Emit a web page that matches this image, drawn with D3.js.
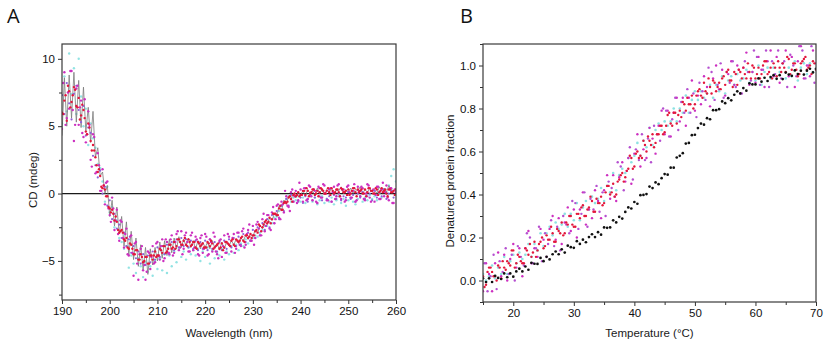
<!DOCTYPE html>
<html>
<head>
<meta charset="utf-8">
<script src="https://cdn.jsdelivr.net/npm/d3@7"></script>
<style>
  body { margin: 0; background: #fff; }
  svg { display: block; font-family: "Liberation Sans", Arial, sans-serif; }
</style>
</head>
<body>
<svg id="chart" width="824" height="345"></svg>
<script>
// ---- Panel A: CD spectra, one reading every 0.5 nm from 190 to 260 nm ----
var wavelengths = d3.range(190, 260.001, 0.5);
// second scan of the same samples, offset by 0.25 nm
var wavelengths2 = d3.range(190.25, 260, 0.5);

var cdGray = [4.3, 8.6, 5.0, 8.8, 5.6, 9.0, 5.3, 8.4, 4.9, 7.9, 4.6, 6.4, 3.8, 6.1,
  2.7, 3.4, 1.3, 1.6, 0.0, 0.6, -1.7, -0.5, -2.4, -1.0, -3.0, -1.7, -3.9, -2.1,
  -4.6, -2.8, -4.9, -3.3, -5.4, -3.8, -5.7, -4.0, -6.0, -4.1, -5.3, -4.0, -5.0, -3.6,
  -4.8, -3.5, -4.6, -3.4, -4.4, -3.3, -4.1, -3.2, -4.0, -3.4, -3.9, -3.3, -4.0, -3.5,
  -4.1, -3.5, -4.1, -3.6, -4.0, -3.6, -4.1, -3.5, -4.0, -3.7, -4.2, -3.6, -4.1, -3.6,
  -3.9, -3.5, -3.8, -3.4, -3.7, -3.3, -3.5, -3.1, -3.4, -3.0, -3.2, -2.7, -2.9, -2.4,
  -2.6, -2.1, -2.3, -1.8, -2.0, -1.5, -1.7, -0.9, -1.3, -0.5, -0.8, -0.2, -0.4, 0.0,
  -0.3, 0.1, -0.1, 0.2, -0.2, 0.3, 0.0, 0.2, -0.1, 0.4, 0.0, 0.3, -0.1, 0.3,
  0.1, 0.4, -0.1, 0.3, 0.2, 0.5, 0.0, 0.3, 0.1, 0.4, 0.0, 0.3, 0.2, 0.5,
  0.0, 0.3, 0.1, 0.4, 0.1, 0.3, 0.0, 0.5, 0.2, 0.4, 0.1, 0.6, 0.3, 0.2, 0.4];

var cdCyan = [5.2, 8.7, 6.1, 10.4, 7.4, 9.3, 5.9, 10.0, 7.2, 5.0, 6.3, 3.6, 5.2, 4.1,
  3.4, 2.2, 1.9, 0.9, -0.6, 0.5, -1.4, -1.0, -2.5, -2.0, -3.3, -3.6, -4.1, -3.9,
  -5.5, -4.6, -5.2, -5.9, -4.8, -5.4, -6.2, -5.1, -5.8, -5.4, -6.1, -5.0, -5.6, -4.8,
  -5.7, -4.5, -5.9, -4.6, -5.4, -4.3, -5.1, -4.1, -4.7, -4.3, -4.9, -4.0, -4.5, -4.2,
  -4.6, -4.1, -5.0, -4.3, -4.7, -4.0, -5.2, -4.2, -4.8, -4.4, -4.6, -4.1, -4.9, -4.3,
  -4.5, -3.9, -4.4, -3.8, -4.2, -3.7, -3.9, -3.4, -3.7, -3.5, -3.3, -3.1, -3.2, -2.9,
  -2.7, -2.4, -2.4, -2.1, -2.2, -1.8, -1.7, -1.3, -0.9, -0.6, -0.4, -0.2, -0.6, -0.3,
  -0.5, -0.2, -0.6, -0.3, -0.7, -0.4, -0.2, -0.6, -0.3, -0.8, -0.5, -0.2, -0.7, -0.4,
  -0.6, -0.3, -0.8, -0.5, -0.2, -0.7, -0.4, -0.9, -0.5, -0.3, -0.6, -0.8, -0.4, -0.2,
  -0.6, -0.3, -0.5, -0.1, -0.4, -0.2, -0.5, 0.0, -0.3, 0.3, 0.1, 0.6, 1.3, 1.8, 0.9];

var cdPurple = [7.3, 5.9, 8.2, 6.7, 5.5, 7.4, 8.0, 6.2, 5.3, 6.5, 4.3, 4.9, 4.5, 2.8,
  2.1, 1.2, 1.7, 0.0, 0.5, -0.9, -0.5, -1.9, -1.5, -2.6, -2.3, -3.3, -2.9, -3.9,
  -3.4, -4.4, -3.9, -4.8, -4.3, -5.2, -4.5, -5.3, -4.6, -5.1, -4.3, -4.9, -4.0, -4.7,
  -3.9, -4.5, -3.8, -4.4, -3.6, -4.2, -3.4, -4.0, -3.3, -3.9, -3.4, -4.0, -3.5, -4.1,
  -3.5, -4.2, -3.6, -4.1, -3.5, -4.2, -3.4, -4.1, -3.6, -4.3, -3.6, -4.2, -3.5, -4.1,
  -3.4, -4.0, -3.3, -3.9, -3.2, -3.8, -3.0, -3.6, -2.9, -3.5, -2.7, -3.3, -2.5, -3.1,
  -2.2, -2.7, -1.9, -2.5, -1.6, -2.2, -1.3, -1.9, -0.9, -1.3, -0.4, -0.9, -0.1, -0.6,
  -0.2, -0.6, -0.3, -0.7, -0.2, -0.6, -0.1, -0.5, -0.3, -0.7, -0.2, -0.5, 0.0, -0.4,
  -0.2, -0.6, -0.1, -0.4, 0.0, -0.5, -0.2, -0.3, 0.1, -0.4, -0.1, -0.6, 0.0, -0.3,
  0.1, -0.4, -0.2, 0.0, -0.5, 0.2, -0.3, 0.1, -0.2, 0.3, -0.4, 0.0, 0.2, -0.3, 0.1];

var cdMagenta = [4.8, 9.0, 5.6, 6.3, 9.1, 3.9, 7.8, 5.1, 6.9, 4.2, 3.8, 6.1, 2.5, 4.4,
  1.5, 3.0, 0.2, 1.8, -0.8, 0.9, -1.6, -0.3, -2.7, -1.2, -3.5, -2.1, -4.0, -2.6,
  -4.6, -3.1, -6.1, -3.6, -6.4, -4.1, -5.7, -6.4, -4.3, -5.6, -3.9, -5.1, -3.6, -4.9,
  -3.4, -4.8, -3.6, -4.5, -3.1, -4.4, -3.0, -4.2, -2.8, -4.1, -2.9, -4.3, -3.1, -4.2,
  -3.2, -4.5, -3.3, -4.4, -3.0, -4.6, -3.4, -4.3, -3.2, -4.5, -3.5, -4.7, -3.1, -4.4,
  -3.2, -4.3, -3.0, -4.1, -2.9, -3.9, -2.6, -3.8, -2.7, -3.5, -2.4, -3.3, -2.1, -3.1,
  -1.9, -2.8, -1.6, -2.6, -1.4, -2.2, -0.9, -1.8, -0.6, -1.4, -0.2, -1.0, 0.1, -0.6,
  0.2, -0.5, 0.3, -0.6, 0.4, -0.4, 0.5, -0.5, 0.2, -0.7, 0.4, -0.3, 0.6, -0.5,
  0.3, -0.6, 0.5, -0.2, 0.7, -0.4, 0.3, -0.5, 0.6, -0.3, 0.2, -0.6, 0.5, -0.2,
  0.4, -0.5, 0.7, -0.3, 0.2, -0.6, 0.5, -0.4, 0.3, -0.2, 0.6, -0.5, 0.4, -0.7, 0.1];

var cdMagenta2 = [8.2, 5.1, 7.5, 9.1, 6.2, 5.1, 8.0, 6.4, 4.5, 7.0, 4.4, 5.1, 2.0, 4.2,
  1.6, 2.1, 0.2, 0.6, 0.8, -1.1, -2.1, -1.1, -2.0, -3.0, -2.0, -3.3, -3.0, -4.5,
  -3.2, -4.4, -3.7, -5.2, -4.5, -3.9, -5.3, -5.8, -4.4, -4.7, -5.2, -3.7, -4.6, -3.9,
  -5.0, -3.4, -4.4, -3.4, -4.6, -3.6, -2.8, -4.0, -4.5, -3.1, -3.6, -4.3, -2.9, -4.0,
  -3.4, -4.6, -3.1, -4.1, -3.2, -4.5, -3.6, -2.9, -4.3, -4.8, -3.4, -3.9, -4.4, -3.0,
  -3.9, -3.3, -4.4, -2.9, -3.8, -2.8, -4.0, -3.0, -2.3, -3.5, -3.8, -2.3, -2.6, -3.1,
  -1.5, -2.4, -1.6, -2.7, -1.0, -1.9, -0.8, -1.9, -0.8, 0.2, -0.9, -1.3, 0.3, -0.2,
  -0.7, 0.8, -0.1, 0.4, -0.5, 0.6, -0.2, 0.3, -0.6, 0.5, -0.3, 0.7, 0.0, -0.5,
  0.4, 0.1, -0.4, 0.6, -0.2, 0.3, -0.6, 0.5, 0.1, -0.3, 0.7, -0.5, 0.2, 0.5,
  -0.4, 0.0, 0.6, -0.6, 0.3, -0.1, 0.5, -0.4, 0.8, 0.1, -0.3, 0.4, -0.7, 0.3];

var cdRed = [6.0, 6.9, 5.4, 7.6, 6.8, 7.9, 6.5, 7.1, 5.8, 6.2, 4.6, 5.2, 3.9, 3.6,
  2.7, 1.6, 1.3, 0.4, 0.3, -0.2, -1.1, -1.2, -2.0, -2.1, -2.9, -2.7, -3.4, -3.3,
  -4.1, -3.8, -4.5, -4.2, -4.9, -4.5, -5.1, -4.7, -5.2, -4.6, -4.9, -4.3, -4.6, -4.1,
  -4.4, -3.9, -4.3, -3.8, -4.1, -3.6, -3.9, -3.4, -3.8, -3.5, -3.8, -3.4, -3.9, -3.6,
  -4.0, -3.6, -3.9, -3.7, -4.0, -3.6, -3.9, -3.7, -4.0, -3.8, -4.1, -3.7, -4.0, -3.6,
  -3.8, -3.5, -3.8, -3.4, -3.6, -3.3, -3.5, -3.1, -3.3, -3.0, -3.1, -2.8, -2.9, -2.4,
  -2.5, -2.1, -2.2, -1.8, -1.9, -1.5, -1.6, -1.1, -1.2, -0.7, -0.7, -0.3, -0.4, -0.1,
  -0.2, 0.1, -0.1, 0.2, -0.1, 0.2, 0.0, 0.3, -0.1, 0.2, 0.1, 0.3, 0.0, 0.2,
  0.1, 0.4, 0.0, 0.3, 0.1, 0.4, 0.1, 0.2, 0.3, 0.0, 0.4, 0.1, 0.3, 0.2,
  0.0, 0.3, 0.1, 0.4, 0.2, 0.0, 0.3, 0.1, 0.4, 0.2, 0.0, 0.3, 0.1, 0.2, 0.3];

var cdRed2 = [5.9, 7.3, 8.0, 6.4, 7.3, 7.7, 6.4, 5.5, 6.6, 5.6, 4.4, 4.9, 3.2, 3.2,
  2.1, 1.8, 0.5, 0.6, -0.2, -1.0, -1.4, -1.5, -1.7, -2.7, -2.8, -2.9, -3.5, -4.0,
  -3.7, -4.1, -4.5, -4.2, -4.9, -4.7, -5.0, -4.7, -5.2, -4.6, -4.6, -4.7, -4.6, -4.2,
  -3.9, -4.4, -4.1, -3.8, -4.0, -4.1, -3.4, -3.6, -3.8, -3.3, -3.9, -3.6, -3.8, -3.6,
  -4.1, -3.7, -3.8, -4.0, -4.0, -3.7, -3.5, -4.1, -3.9, -3.7, -4.0, -4.2, -3.6, -3.7,
  -3.9, -3.4, -3.9, -3.5, -3.5, -3.2, -3.6, -3.1, -3.2, -3.3, -3.1, -2.7, -2.3, -2.8,
  -2.3, -2.0, -2.1, -2.2, -1.5, -1.5, -1.6, -0.9, -1.2, -0.6, -0.6, -0.2, -0.6, 0.0,
  -0.1, -0.2, -0.1, 0.2, 0.4, -0.2, 0.1, 0.3, 0.0, -0.2, 0.4, 0.2, 0.0, 0.4,
  -0.1, 0.2, 0.1, 0.3, -0.2, 0.3, 0.1, -0.1, -0.1, 0.2, 0.4, -0.2, 0.1, 0.3,
  0.0, -0.2, 0.4, 0.2, 0.0, 0.4, -0.1, 0.2, 0.1, 0.3, -0.2, 0.3, 0.1, -0.1];

var aXTicks = [190, 200, 210, 220, 230, 240, 250, 260];
var aXMinor = [195, 205, 215, 225, 235, 245, 255];
var aYTicks = [-5, 0, 5, 10];
var aYMinor = [-7.5, -2.5, 2.5, 7.5];

// ---- Panel B: thermal melts, one reading every 0.5 °C from 15 to 70 °C ----
var temps = d3.range(15, 70.001, 0.5);
var temps2 = d3.range(15.25, 70, 0.5);

var meltCyan = [0.03, 0.00, 0.02, 0.07, 0.01, 0.06, 0.03, 0.11, 0.03, 0.09,
  0.12, 0.08, 0.13, 0.10, 0.12, 0.17, 0.11, 0.17, 0.14, 0.22,
  0.16, 0.22, 0.25, 0.21, 0.27, 0.24, 0.26, 0.31, 0.25, 0.31,
  0.28, 0.36, 0.28, 0.34, 0.37, 0.33, 0.39, 0.36, 0.38, 0.43,
  0.37, 0.44, 0.41, 0.50, 0.42, 0.49, 0.52, 0.50, 0.57, 0.55,
  0.58, 0.64, 0.58, 0.65, 0.62, 0.71, 0.63, 0.70, 0.73, 0.70,
  0.74, 0.72, 0.74, 0.80, 0.74, 0.80, 0.78, 0.86, 0.78, 0.84,
  0.88, 0.84, 0.88, 0.85, 0.87, 0.91, 0.85, 0.91, 0.88, 0.95,
  0.87, 0.93, 0.95, 0.91, 0.96, 0.93, 0.94, 0.98, 0.92, 0.97,
  0.93, 1.00, 0.91, 0.97, 0.99, 0.94, 0.99, 0.95, 0.97, 1.01,
  0.94, 0.99, 0.95, 1.02, 0.93, 0.99, 1.01, 0.96, 1.01, 0.97, 0.98];

var meltMagenta = [-0.05, 0.08, 0.03, -0.05, 0.08, 0.13, 0.02, 0.12, 0.00, 0.10,
  0.17, 0.06, 0.15, 0.02, 0.15, 0.23, 0.08, 0.15, 0.11, 0.24,
  0.19, 0.11, 0.24, 0.30, 0.19, 0.29, 0.17, 0.27, 0.34, 0.23,
  0.33, 0.20, 0.33, 0.41, 0.26, 0.33, 0.29, 0.42, 0.37, 0.29,
  0.42, 0.49, 0.38, 0.49, 0.37, 0.48, 0.55, 0.46, 0.57, 0.45,
  0.59, 0.68, 0.53, 0.61, 0.57, 0.71, 0.66, 0.59, 0.72, 0.79,
  0.68, 0.79, 0.67, 0.78, 0.85, 0.74, 0.85, 0.72, 0.85, 0.93,
  0.79, 0.86, 0.82, 0.95, 0.90, 0.81, 0.94, 1.00, 0.89, 0.98,
  0.86, 0.96, 1.02, 0.91, 1.00, 0.87, 0.99, 1.06, 0.91, 0.97,
  0.92, 1.04, 0.98, 0.90, 1.02, 1.07, 0.95, 1.04, 0.92, 1.01,
  1.07, 0.95, 1.04, 0.90, 1.02, 1.09, 0.94, 1.00, 0.95, 1.07, 1.01];

var meltMagenta2 = [0.08, -0.05, 0.02, 0.12, -0.04, 0.09, 0.04, 0.15, 0.03, 0.12,
  0.00, 0.16, 0.11, 0.07, 0.22, 0.20, 0.08, 0.15, 0.25, 0.09,
  0.22, 0.17, 0.28, 0.16, 0.25, 0.14, 0.30, 0.26, 0.22, 0.37,
  0.36, 0.24, 0.31, 0.41, 0.25, 0.38, 0.33, 0.44, 0.32, 0.41,
  0.30, 0.46, 0.43, 0.39, 0.55, 0.53, 0.42, 0.51, 0.62, 0.47,
  0.61, 0.56, 0.68, 0.56, 0.66, 0.55, 0.72, 0.68, 0.65, 0.80,
  0.79, 0.67, 0.75, 0.85, 0.70, 0.83, 0.78, 0.89, 0.78, 0.87,
  0.76, 0.92, 0.88, 0.84, 0.99, 0.97, 0.84, 0.91, 1.01, 0.85,
  0.97, 0.92, 1.02, 0.90, 0.98, 0.87, 1.02, 0.97, 0.93, 1.07,
  1.04, 0.91, 0.98, 1.07, 0.90, 1.02, 0.96, 1.07, 0.94, 1.02,
  0.90, 1.05, 1.00, 0.95, 1.09, 1.07, 0.94, 1.00, 1.09, 0.92];

var meltRed = [0.02, -0.02, 0.06, 0.04, 0.02, 0.07, 0.01, 0.06, 0.09, 0.07,
  0.14, 0.08, 0.11, 0.08, 0.15, 0.12, 0.11, 0.18, 0.14, 0.18,
  0.15, 0.21, 0.19, 0.22, 0.18, 0.23, 0.27, 0.22, 0.26, 0.30,
  0.25, 0.31, 0.29, 0.35, 0.30, 0.34, 0.37, 0.32, 0.36, 0.39,
  0.36, 0.44, 0.40, 0.45, 0.40, 0.47, 0.50, 0.48, 0.52, 0.57,
  0.53, 0.60, 0.58, 0.65, 0.60, 0.65, 0.68, 0.64, 0.68, 0.72,
  0.69, 0.77, 0.73, 0.78, 0.73, 0.79, 0.83, 0.79, 0.82, 0.86,
  0.82, 0.88, 0.86, 0.92, 0.87, 0.90, 0.93, 0.88, 0.92, 0.94,
  0.91, 0.98, 0.93, 0.97, 0.91, 0.97, 0.99, 0.94, 0.97, 1.00,
  0.94, 0.99, 0.96, 1.02, 0.96, 0.99, 1.01, 0.95, 0.99, 1.01,
  0.97, 1.03, 0.98, 1.01, 0.95, 1.01, 1.03, 0.98, 1.00, 1.02, 0.98];

var meltRed2 = [-0.03, 0.04, 0.06, 0.02, 0.00, 0.06, 0.09, 0.05, 0.08, 0.14,
  0.06, 0.12, 0.09, 0.08, 0.14, 0.17, 0.13, 0.11, 0.17, 0.20,
  0.16, 0.19, 0.25, 0.18, 0.24, 0.22, 0.21, 0.27, 0.30, 0.26,
  0.25, 0.31, 0.34, 0.30, 0.33, 0.39, 0.32, 0.38, 0.36, 0.35,
  0.41, 0.44, 0.41, 0.39, 0.46, 0.49, 0.46, 0.51, 0.58, 0.52,
  0.59, 0.57, 0.57, 0.63, 0.67, 0.63, 0.62, 0.68, 0.72, 0.68,
  0.72, 0.78, 0.72, 0.78, 0.77, 0.76, 0.82, 0.85, 0.82, 0.80,
  0.86, 0.89, 0.85, 0.88, 0.94, 0.87, 0.92, 0.90, 0.89, 0.95,
  0.97, 0.93, 0.90, 0.96, 0.98, 0.94, 0.96, 1.01, 0.94, 0.99,
  0.96, 0.94, 1.00, 1.02, 0.97, 0.94, 0.99, 1.02, 0.97, 0.99,
  1.04, 0.96, 1.01, 0.98, 0.96, 1.02, 1.04, 0.99, 0.96, 1.01];

var meltBlack = [0.010, -0.007, 0.010, -0.007, 0.022, 0.012, 0.007, 0.033, 0.015, 0.033,
  0.018, 0.042, 0.055, 0.042, 0.065, 0.050, 0.082, 0.078, 0.077, 0.105,
  0.090, 0.110, 0.098, 0.122, 0.135, 0.122, 0.145, 0.130, 0.162, 0.155,
  0.152, 0.183, 0.170, 0.190, 0.178, 0.202, 0.215, 0.202, 0.225, 0.213,
  0.247, 0.245, 0.247, 0.280, 0.270, 0.296, 0.288, 0.319, 0.340, 0.335,
  0.365, 0.357, 0.397, 0.398, 0.402, 0.437, 0.430, 0.456, 0.448, 0.476,
  0.495, 0.492, 0.525, 0.525, 0.572, 0.580, 0.592, 0.637, 0.640, 0.676,
  0.678, 0.709, 0.730, 0.725, 0.755, 0.750, 0.792, 0.792, 0.797, 0.833,
  0.825, 0.848, 0.838, 0.864, 0.880, 0.870, 0.895, 0.883, 0.917, 0.912,
  0.912, 0.940, 0.925, 0.943, 0.928, 0.946, 0.955, 0.938, 0.955, 0.937,
  0.967, 0.958, 0.952, 0.977, 0.960, 0.976, 0.958, 0.976, 0.985, 0.968, 0.985];

var bXTicks = [20, 30, 40, 50, 60, 70];
var bXMinor = [15, 25, 35, 45, 55, 65];
var bYTicks = [0, 0.2, 0.4, 0.6, 0.8, 1.0];
var bYMinor = [-0.1, 0.1, 0.3, 0.5, 0.7, 0.9, 1.1];

var svg = d3.select("#chart");

function drawPanel(p) {
    var w = p.right - p.left, h = p.bottom - p.top;
    var g = svg.append("g").attr("transform", `translate(${p.left},${p.top})`);

    var x = d3.scaleLinear().domain(p.xDomain).range([0, w]);
    var y = d3.scaleLinear().domain(p.yDomain).range([h, 0]);

    // clip so stray points stay inside the frame
    g.append("clipPath").attr("id", "clip" + p.name)
        .append("rect").attr("width", w).attr("height", h);
    var plot = g.append("g").attr("clip-path", `url(#clip${p.name})`);

    if (p.zeroLine) {
        plot.append("line")
            .attr("x1", 0).attr("x2", w)
            .attr("y1", y(0)).attr("y2", y(0))
            .attr("stroke", "#1a1a1a").attr("stroke-width", 1.3);
    }

    p.series.forEach(s => {
        var pts = s.xs.map((xv, i) => [xv, s.values[i]]);
        if (s.line) {
            plot.append("path")
                .datum(pts)
                .attr("fill", "none")
                .attr("stroke", s.color)
                .attr("stroke-width", s.width || 0.9)
                .attr("opacity", s.opacity || 1)
                .attr("d", d3.line().x(d => x(d[0])).y(d => y(d[1])));
        }
        if (s.r) {
            plot.append("g")
                .attr("fill", s.color)
                .attr("opacity", s.opacity || 1)
                .selectAll("circle")
                .data(pts)
                .enter().append("circle")
                .attr("cx", d => x(d[0]))
                .attr("cy", d => y(d[1]))
                .attr("r", s.r);
        }
    });

    // axes: major ticks with labels, minor ticks without
    g.append("g").attr("transform", `translate(0,${h})`)
        .call(d3.axisBottom(x).tickValues(p.xTicks).tickSize(4).tickSizeOuter(0).tickPadding(3));
    g.append("g").attr("transform", `translate(0,${h})`)
        .call(d3.axisBottom(x).tickValues(p.xMinor).tickSize(3).tickSizeOuter(0).tickFormat(""));
    g.append("g")
        .call(d3.axisLeft(y).tickValues(p.yTicks).tickSize(4).tickSizeOuter(0).tickPadding(3)
            .tickFormat(p.yFormat));
    g.append("g")
        .call(d3.axisLeft(y).tickValues(p.yMinor).tickSize(3).tickSizeOuter(0).tickFormat(""));

    g.selectAll(".domain").remove();
    g.selectAll(".tick line").attr("stroke", "#333").attr("stroke-width", 1);
    g.selectAll(".tick text")
        .attr("fill", "#111")
        .style("font-size", "11.5px")
        .style("font-family", "'Liberation Sans', Arial, sans-serif");

    // frame around the plot area
    g.append("rect")
        .attr("width", w).attr("height", h)
        .attr("fill", "none")
        .attr("stroke", "#3a3a3a")
        .attr("stroke-width", 1.2);

    // axis titles
    g.append("text")
        .attr("x", w / 2).attr("y", p.xTitleY - p.top)
        .attr("text-anchor", "middle")
        .attr("fill", "#1a1a1a")
        .style("font-size", "11.5px")
        .text(p.xTitle);
    g.append("text")
        .attr("transform", `translate(${p.yTitleX - p.left},${p.yTitleCY - p.top}) rotate(-90)`)
        .attr("text-anchor", "middle")
        .attr("fill", "#1a1a1a")
        .style("font-size", "11.5px")
        .text(p.yTitle);

    // panel letter
    svg.append("text")
        .attr("x", p.letterX).attr("y", 23)
        .attr("fill", "#111")
        .style("font-size", "20px")
        .style("font-family", "'Open Sans', 'DejaVu Sans', sans-serif")
        .text(p.name);
}

drawPanel({
    name: "A",
    left: 62, right: 396, top: 44, bottom: 300,
    xDomain: [190, 260], yDomain: [-7.9, 11.1],
    xTicks: aXTicks, xMinor: aXMinor, yTicks: aYTicks, yMinor: aYMinor,
    yFormat: d3.format("d"),
    zeroLine: true,
    series: [
        { xs: wavelengths, values: cdCyan, color: "#7fdfdf", r: 1.2, opacity: 0.85 },
        { xs: wavelengths, values: cdGray, color: "#7c7c7c", line: true, width: 0.9, opacity: 0.9 },
        { xs: wavelengths, values: cdPurple, color: "#8f5fd8", r: 1.1 },
        { xs: wavelengths, values: cdMagenta, color: "#cc2fc0", r: 1.2 },
        { xs: wavelengths2, values: cdMagenta2, color: "#cc2fc0", r: 1.2 },
        { xs: wavelengths, values: cdRed, color: "#e3173c", r: 1.2 },
        { xs: wavelengths2, values: cdRed2, color: "#e3173c", r: 1.2 }
    ],
    xTitle: "Wavelength (nm)", xTitleY: 337,
    yTitle: "CD (mdeg)", yTitleX: 37, yTitleCY: 180,
    letterX: 7
});

drawPanel({
    name: "B",
    left: 483, right: 816, top: 44, bottom: 302,
    xDomain: [15, 70], yDomain: [-0.1, 1.1],
    xTicks: bXTicks, xMinor: bXMinor, yTicks: bYTicks, yMinor: bYMinor,
    yFormat: d3.format(".1f"),
    zeroLine: false,
    series: [
        { xs: temps, values: meltCyan, color: "#7fdfdf", r: 1.3, opacity: 0.9 },
        { xs: temps, values: meltMagenta, color: "#cc2fc0", r: 1.2 },
        { xs: temps2, values: meltMagenta2, color: "#b54fd0", r: 1.2 },
        { xs: temps, values: meltRed, color: "#e3173c", r: 1.2 },
        { xs: temps2, values: meltRed2, color: "#e3173c", r: 1.2 },
        { xs: temps, values: meltBlack, color: "#111111", r: 1.35 }
    ],
    xTitle: "Temperature (°C)", xTitleY: 337,
    yTitle: "Denatured protein fraction", yTitleX: 454, yTitleCY: 181,
    letterX: 460
});
</script>
</body>
</html>
